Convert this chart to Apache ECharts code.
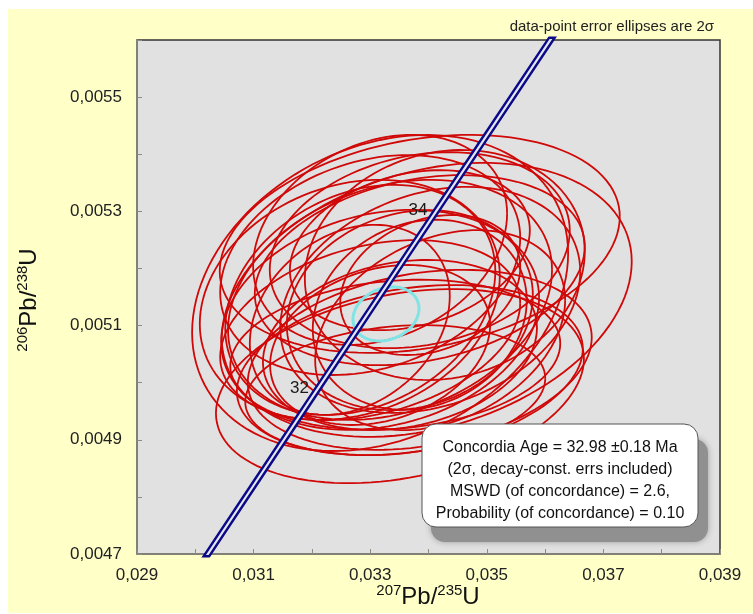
<!DOCTYPE html>
<html><head><meta charset="utf-8">
<script src="https://cdn.jsdelivr.net/npm/echarts@6/dist/echarts.min.js"></script>
<style>
html,body{margin:0;padding:0;background:#fff;}
#bg{position:absolute;left:8px;top:9px;width:745px;height:604px;background:#FFFFC8;}
#main{position:absolute;left:0;top:0;width:753px;height:614px;}
</style></head><body>
<div id="bg"></div><div id="main"></div>
<script>
// ---- data-point error ellipses (centre, 2-sigma errors, error correlation)
const ellX = [0.03317,0.03397,0.03351,0.03385,0.03317,0.03385,0.03368,0.03317,0.03334,0.03351,0.03368,0.03385,0.03403,0.03385,0.03403,0.03300,0.03283,0.03420,0.03343,0.03368,0.03265,0.03428,0.03343,0.03317,0.03300,0.03265,0.03385];
const ellY = [0.005157,0.005145,0.004994,0.005232,0.005250,0.005040,0.005022,0.005110,0.005145,0.005066,0.005127,0.005119,0.005171,0.005197,0.005145,0.005092,0.005145,0.005092,0.005049,0.005232,0.005110,0.005206,0.004987,0.005066,0.005206,0.005145,0.005243];
const errX = [0.003225,0.003516,0.003156,0.002573,0.002178,0.002950,0.002967,0.002727,0.002779,0.002350,0.002110,0.001835,0.001544,0.002830,0.002573,0.002573,0.002316,0.002144,0.002830,0.002058,0.001715,0.002401,0.002573,0.001887,0.002573,0.002573,0.003431];
const errY = [0.0002767,0.0002399,0.0001699,0.0001716,0.0001839,0.0001576,0.0001489,0.0001926,0.0002102,0.0001489,0.0001751,0.0001664,0.0001226,0.0001664,0.0001979,0.0001576,0.0002014,0.0001751,0.0001313,0.0001401,0.0001664,0.0002014,0.0001138,0.0001401,0.0001926,0.0002102,0.0001909];
const rho  = [0.25,0.28,0.28,0.20,0.25,0.25,0.25,0.20,0.25,0.20,0.15,0.15,0.25,0.25,0.25,0.30,0.25,0.30,0.15,0.25,0.25,0.12,0.18,0.25,0.25,0.20,0.25];

// ---- concordia age ellipse
const ageEllX = [0.033271];
const ageEllY = [0.0051203];
const ageErrX = [0.000566];
const ageErrY = [0.0000473];
const ageRho  = [0.20];

// ---- concordia curve points (age in Ma)
const concAge = [29,30,31,32,33,34,35,36,37];
const concX = [0.028972,0.029986,0.031001,0.032017,0.033034,0.034052,0.035071,0.036091,0.037111];
const concY = [0.0045088,0.0046646,0.0048204,0.0049763,0.0051322,0.0052882,0.0054441,0.0056001,0.0057561];
const labelAges = [32,34];

// ---- axis tick labels
const xTickLabels = ['0,029','0,031','0,033','0,035','0,037','0,039'];
const yTickLabels = ['0,0047','0,0049','0,0051','0,0053','0,0055'];

const annotLines = [
  'Concordia Age = 32.98 \u00b10.18 Ma',
  '(2\u03c3, decay-const. errs included)',
  'MSWD (of concordance) = 2.6,',
  'Probability (of concordance) = 0.10'
];
const noteText = 'data-point error ellipses are 2\u03c3';

const FONT = 'Liberation Sans, Arial, sans-serif';

function ellipseRenderer(color, width) {
  return function (params, api) {
    const cx = api.value(0), cy = api.value(1), sx = api.value(2), sy = api.value(3), r = api.value(4);
    const k = Math.sqrt(1 - r * r);
    const pts = [];
    for (let i = 0; i <= 120; i++) {
      const t = i / 120 * 2 * Math.PI;
      pts.push(api.coord([cx + sx * Math.cos(t), cy + sy * (r * Math.cos(t) + k * Math.sin(t))]));
    }
    return { type: 'polyline', shape: { points: pts }, style: { stroke: color, lineWidth: width, fill: null } };
  };
}

const ellData = ellX.map((x, i) => [x, ellY[i], errX[i], errY[i], rho[i]]);
const ageData = ageEllX.map((x, i) => [x, ageEllY[i], ageErrX[i], ageErrY[i], ageRho[i]]);
const concData = concX.map((x, i) => [x, concY[i]]);
const ageLabelData = labelAges.map(a => { const i = concAge.indexOf(a); return [concX[i], concY[i], a]; });

const chart = echarts.init(document.getElementById('main'), null, { renderer: 'canvas' });
chart.setOption({
  backgroundColor: 'transparent',
  animation: false,
  grid: { left: 137, right: 33, top: 40, bottom: 60, show: true, backgroundColor: '#E1E1E1', borderColor: '#333', borderWidth: 1.5 },
  xAxis: {
    type: 'value', min: 0.029, max: 0.039, interval: 0.001,
    axisLine: { show: true, lineStyle: { color: '#8c8c80', width: 1.5 } },
    axisTick: { show: true, inside: true, length: 5, lineStyle: { color: '#8c8c80' } },
    splitLine: { show: false },
    axisLabel: {
      margin: 13, fontSize: 17, color: '#222', fontFamily: FONT,
      formatter: v => { const k = Math.round((v - 0.029) * 1000); return k % 2 === 0 ? xTickLabels[k / 2] : ''; }
    }
  },
  yAxis: {
    type: 'value', min: 0.0047, max: 0.0056, interval: 0.0001,
    axisLine: { show: true, lineStyle: { color: '#8c8c80', width: 1.5 } },
    axisTick: { show: true, inside: true, length: 5, lineStyle: { color: '#8c8c80' } },
    splitLine: { show: false },
    axisLabel: {
      margin: 15, fontSize: 17, color: '#222', fontFamily: FONT,
      formatter: v => { const k = Math.round((v - 0.0047) * 10000); return k % 2 === 0 ? (yTickLabels[k / 2] || '') : ''; }
    }
  },
  series: [
    { type: 'custom', data: ellData, encode: { x: 0, y: 1 }, clip: true, z: 2, renderItem: ellipseRenderer('#D00808', 1.8) },
    { type: 'custom', data: ageData, encode: { x: 0, y: 1 }, clip: true, z: 2, renderItem: ellipseRenderer('#80E4E4', 3) },
    { type: 'line', data: concData, showSymbol: false, clip: true, z: 3, lineStyle: { color: '#0A0A88', width: 7 } },
    { type: 'line', data: concData, showSymbol: false, clip: true, z: 3, lineStyle: { color: '#E6E6EE', width: 2.2 } },
    { type: 'scatter', data: ageLabelData, symbolSize: 0, z: 4, itemStyle: { opacity: 1 },
      label: { show: true, position: 'left', distance: 4, offset: [0, -8], formatter: p => String(p.value[2]), fontSize: 17, color: '#1a1a1a', fontFamily: FONT } }
  ],
  graphic: [
    { type: 'text', x: 714, y: 27, z: 10, style: { text: noteText, align: 'right', verticalAlign: 'middle', font: '15px ' + FONT, fill: '#222' } },
    { type: 'rect', z: 10, shape: { x: 431, y: 439, width: 277, height: 103, r: 14 }, style: { fill: '#909090', shadowBlur: 6, shadowColor: 'rgba(0,0,0,0.3)' } },
    { type: 'rect', z: 11, shape: { x: 422, y: 424, width: 276, height: 103, r: 14 }, style: { fill: '#ffffff', stroke: '#555', lineWidth: 1 } },
    ...annotLines.map((t, i) => ({ type: 'text', z: 12, x: 560, y: 448 + i * 21.7, style: { text: t, align: 'center', verticalAlign: 'middle', font: '16px ' + FONT, fill: '#111' } })),
    { type: 'text', z: 10, x: 428, y: 597, style: {
        text: '{s|207}{b|Pb/}{s|235}{b|U}', align: 'center', verticalAlign: 'middle', fill: '#111',
        rich: { s: { fontSize: 15, fontFamily: FONT, verticalAlign: 'top', fill: '#111' }, b: { fontSize: 24, lineHeight: 28, fontFamily: FONT, fill: '#111' } } } },
    { type: 'text', z: 10, x: 29, y: 300, rotation: Math.PI / 2, style: {
        text: '{s|206}{b|Pb/}{s|238}{b|U}', align: 'center', verticalAlign: 'middle', fill: '#111',
        rich: { s: { fontSize: 15, fontFamily: FONT, verticalAlign: 'top', fill: '#111' }, b: { fontSize: 24, lineHeight: 28, fontFamily: FONT, fill: '#111' } } } }
  ]
});
</script>
</body></html>
